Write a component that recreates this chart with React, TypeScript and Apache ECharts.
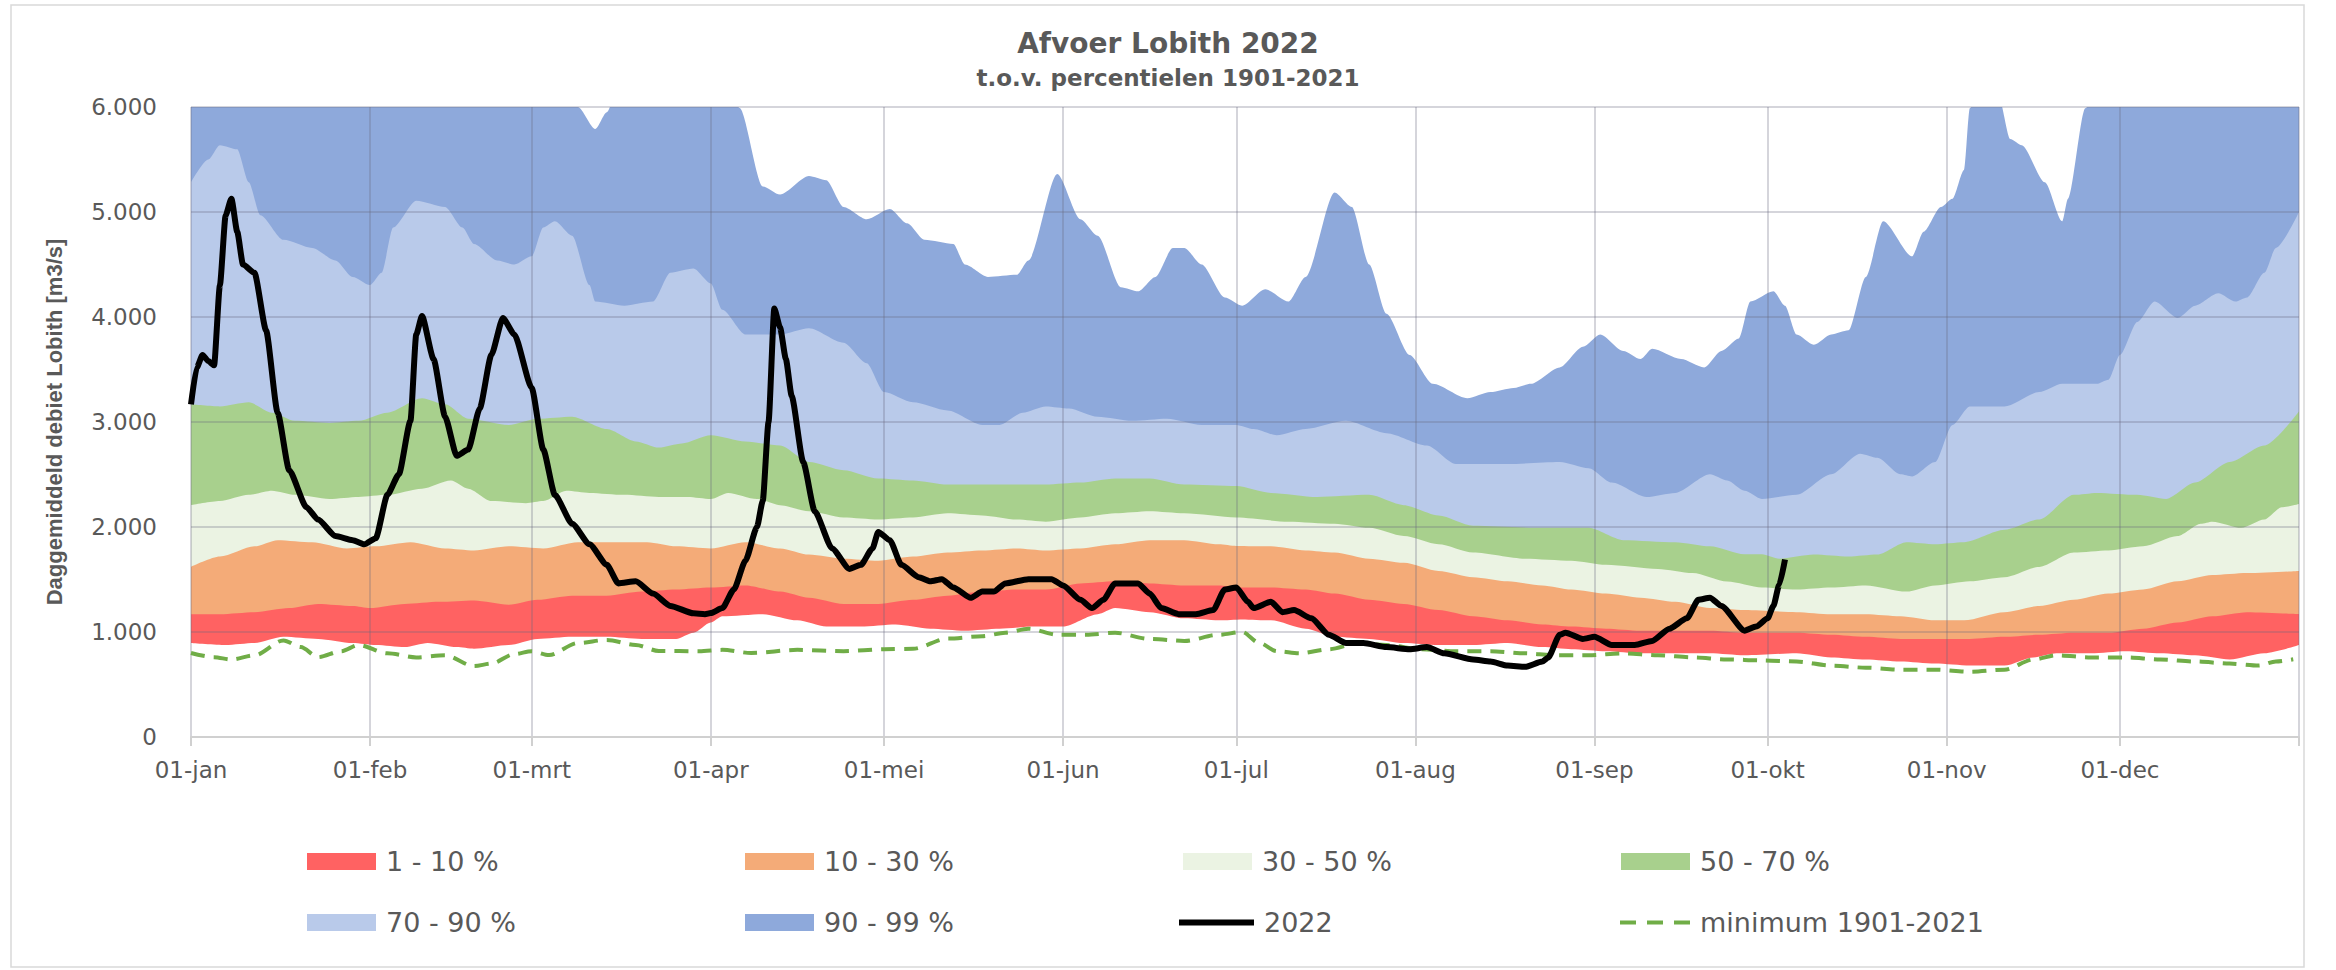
import React, { useEffect, useRef } from 'react';
import * as echarts from 'echarts';

// ---- axis categories ----
const monthStarts = [0, 31, 59, 90, 120, 151, 181, 212, 243, 273, 304, 334];
const monthLabels = ['01-jan', '01-feb', '01-mrt', '01-apr', '01-mei', '01-jun', '01-jul', '01-aug', '01-sep', '01-okt', '01-nov', '01-dec'];
const yearEnd = 365;
const yTickLabels = ['0', '1.000', '2.000', '3.000', '4.000', '5.000', '6.000'];

// ---- percentile curves (day of year, m3/s) ----
const p99Days = [0, 20, 40, 55, 64, 67, 70, 72, 74, 80, 88, 93, 95, 99, 102, 107, 110, 113, 117, 121, 124, 127, 132, 134, 138, 143, 145, 150, 154, 157, 161, 164, 167, 170, 172, 175, 179, 182, 186, 190, 193, 198, 201, 204, 207, 211, 215, 221, 225, 229, 232, 237, 241, 244, 248, 251, 253, 258, 262, 265, 268, 270, 274, 276, 278, 281, 284, 287, 290, 293, 298, 300, 303, 305, 307, 308, 310, 313, 315, 317, 321, 324, 325, 328, 332, 345, 365];
const p99Vals = [6500, 6700, 6800, 6600, 6200, 6000, 5790, 5950, 6200, 6600, 6500, 6200, 5990, 5244, 5166, 5342, 5303, 5048, 4931, 5029, 4892, 4735, 4696, 4500, 4382, 4402, 4539, 5362, 4931, 4774, 4284, 4245, 4382, 4657, 4657, 4500, 4186, 4108, 4265, 4147, 4382, 5185, 5048, 4500, 4030, 3638, 3364, 3226, 3285, 3324, 3364, 3520, 3716, 3834, 3677, 3599, 3697, 3599, 3520, 3677, 3795, 4147, 4245, 4108, 3834, 3736, 3834, 3873, 4382, 4911, 4578, 4813, 5048, 5127, 5401, 5989, 6200, 6100, 5695, 5636, 5283, 4911, 5127, 5989, 6400, 6700, 6700];

const p90Days = [0, 3, 5, 8, 10, 12, 16, 21, 25, 28, 31, 33, 35, 39, 44, 47, 49, 53, 56, 59, 61, 63, 66, 69, 70, 75, 80, 83, 87, 90, 92, 96, 102, 107, 113, 117, 120, 125, 131, 137, 140, 144, 148, 152, 157, 163, 169, 175, 181, 184, 188, 193, 200, 207, 214, 219, 228, 237, 242, 246, 252, 257, 263, 266, 269, 272, 278, 284, 289, 292, 296, 298, 302, 305, 308, 314, 320, 324, 330, 332, 334, 337, 340, 344, 347, 351, 354, 356, 359, 361, 365];
const p90Vals = [5283, 5500, 5636, 5597, 5283, 4970, 4735, 4657, 4539, 4382, 4304, 4421, 4852, 5107, 5048, 4852, 4696, 4539, 4500, 4578, 4852, 4911, 4774, 4304, 4147, 4108, 4147, 4421, 4461, 4320, 4069, 3834, 3834, 3893, 3755, 3560, 3285, 3187, 3109, 2972, 2972, 3089, 3148, 3129, 3050, 3011, 3031, 2972, 2972, 2933, 2874, 2933, 3011, 2894, 2776, 2600, 2600, 2619, 2560, 2423, 2286, 2325, 2502, 2443, 2345, 2267, 2306, 2502, 2698, 2659, 2502, 2482, 2619, 2972, 3148, 3148, 3285, 3364, 3364, 3403, 3638, 3952, 4147, 3991, 4108, 4226, 4147, 4186, 4421, 4657, 5000];

const p70Days = [0, 5, 10, 14, 18, 24, 29, 34, 40, 44, 48, 55, 60, 66, 72, 77, 81, 85, 90, 96, 102, 107, 113, 119, 125, 131, 143, 148, 154, 160, 166, 172, 181, 187, 195, 204, 210, 216, 222, 234, 242, 248, 257, 263, 269, 272, 275, 281, 287, 292, 297, 302, 307, 314, 320, 326, 330, 337, 342, 347, 353, 359, 365];
const p70Vals = [3168, 3148, 3187, 3089, 3011, 2991, 3011, 3089, 3226, 3168, 3031, 2972, 3031, 3050, 2933, 2815, 2756, 2796, 2874, 2815, 2776, 2619, 2541, 2462, 2443, 2404, 2404, 2404, 2423, 2462, 2462, 2404, 2390, 2325, 2286, 2306, 2208, 2110, 2012, 1992, 1992, 1875, 1855, 1816, 1740, 1740, 1698, 1737, 1718, 1737, 1855, 1836, 1855, 1973, 2071, 2306, 2325, 2306, 2267, 2423, 2619, 2776, 3100];

const p50Days = [0, 5, 10, 14, 18, 24, 29, 34, 40, 45, 48, 52, 58, 61, 65, 69, 75, 81, 86, 90, 93, 98, 102, 107, 113, 119, 125, 131, 137, 143, 148, 154, 160, 166, 172, 181, 190, 198, 204, 210, 216, 222, 231, 239, 245, 254, 260, 266, 272, 278, 284, 290, 297, 302, 308, 314, 320, 326, 332, 338, 344, 348, 350, 355, 359, 362, 365];
const p50Vals = [2208, 2247, 2306, 2345, 2306, 2267, 2286, 2306, 2365, 2443, 2365, 2247, 2227, 2247, 2345, 2325, 2306, 2286, 2286, 2267, 2325, 2267, 2208, 2149, 2090, 2071, 2090, 2130, 2110, 2071, 2051, 2090, 2130, 2149, 2130, 2090, 2051, 2031, 1992, 1914, 1836, 1757, 1698, 1679, 1640, 1601, 1561, 1480, 1424, 1405, 1424, 1444, 1385, 1444, 1483, 1522, 1620, 1757, 1777, 1816, 1914, 2031, 2051, 1992, 2071, 2188, 2220];

const p30Days = [0, 5, 11, 15, 21, 27, 32, 38, 44, 49, 55, 61, 67, 73, 79, 84, 90, 96, 102, 107, 113, 119, 125, 131, 137, 143, 148, 154, 160, 166, 172, 178, 181, 187, 193, 198, 204, 210, 216, 222, 228, 234, 239, 245, 251, 257, 263, 269, 278, 284, 290, 296, 302, 307, 314, 320, 326, 332, 338, 344, 350, 356, 365];
const p30Vals = [1620, 1718, 1816, 1875, 1855, 1796, 1816, 1855, 1796, 1777, 1816, 1796, 1855, 1855, 1855, 1816, 1796, 1855, 1796, 1737, 1698, 1679, 1718, 1757, 1777, 1796, 1777, 1796, 1836, 1875, 1875, 1836, 1820, 1816, 1777, 1757, 1698, 1659, 1581, 1522, 1483, 1444, 1405, 1366, 1326, 1287, 1228, 1209, 1189, 1169, 1169, 1150, 1111, 1111, 1189, 1248, 1307, 1366, 1405, 1483, 1542, 1561, 1581];

const p10Days = [0, 5, 11, 17, 22, 28, 31, 37, 43, 49, 55, 60, 66, 72, 78, 84, 90, 96, 102, 107, 113, 119, 125, 131, 137, 143, 148, 154, 160, 166, 172, 178, 181, 187, 193, 198, 204, 210, 216, 222, 228, 234, 239, 245, 251, 263, 269, 278, 284, 290, 296, 308, 314, 320, 326, 332, 338, 344, 350, 356, 365];
const p10Vals = [1170, 1170, 1189, 1228, 1267, 1248, 1228, 1267, 1287, 1300, 1260, 1307, 1346, 1346, 1385, 1405, 1424, 1444, 1385, 1326, 1267, 1267, 1307, 1346, 1385, 1405, 1405, 1463, 1483, 1463, 1444, 1444, 1424, 1424, 1405, 1366, 1307, 1267, 1209, 1150, 1111, 1072, 1052, 1032, 1013, 1013, 993, 993, 974, 954, 934, 934, 954, 974, 993, 993, 1032, 1091, 1150, 1189, 1170];

const p1Days = [0, 6, 11, 16, 22, 28, 32, 37, 41, 46, 49, 55, 60, 66, 72, 78, 84, 87, 90, 92, 99, 105, 110, 116, 122, 128, 134, 140, 146, 151, 157, 160, 166, 172, 178, 182, 187, 193, 198, 204, 210, 216, 222, 228, 234, 239, 245, 251, 263, 269, 278, 284, 290, 296, 302, 308, 314, 319, 323, 329, 335, 341, 347, 353, 359, 365];
const p1Vals = [895, 876, 895, 954, 934, 895, 876, 856, 895, 856, 840, 876, 934, 954, 954, 934, 934, 993, 1091, 1150, 1170, 1111, 1052, 1052, 1072, 1032, 1013, 1032, 1052, 1052, 1170, 1228, 1189, 1130, 1111, 1120, 1111, 1032, 954, 934, 895, 876, 876, 895, 856, 836, 817, 797, 797, 778, 797, 758, 738, 719, 699, 680, 680, 758, 797, 797, 817, 797, 778, 738, 797, 876];

// ---- minimum 1901-2021 ----
const minDays = [0, 4, 7, 11, 16, 19, 22, 26, 29, 34, 39, 44, 49, 52, 56, 59, 62, 67, 72, 77, 81, 88, 92, 97, 105, 113, 120, 125, 131, 137, 141, 145, 150, 155, 160, 166, 172, 178, 182, 185, 188, 192, 197, 202, 207, 213, 219, 225, 231, 236, 242, 248, 254, 260, 266, 272, 278, 284, 290, 296, 302, 308, 314, 319, 323, 329, 335, 341, 347, 353, 358, 361, 364];
const minVals = [800, 760, 738, 778, 920, 856, 760, 817, 876, 797, 758, 778, 675, 699, 790, 817, 780, 895, 925, 876, 820, 817, 830, 800, 830, 817, 836, 840, 937, 960, 993, 1032, 974, 974, 993, 934, 915, 974, 1000, 895, 817, 797, 836, 890, 876, 836, 817, 817, 797, 778, 778, 797, 778, 758, 738, 730, 719, 680, 660, 641, 641, 621, 641, 738, 778, 758, 758, 738, 719, 699, 680, 719, 740];

// ---- 2022 ----
const y2022Days = [0, 1, 2, 3, 4, 5, 6, 7, 8, 9, 11, 13, 15, 17, 20, 22, 25, 28, 30, 32, 34, 36, 38, 39, 40, 42, 44, 46, 48, 50, 52, 54, 56, 59, 61, 63, 66, 69, 72, 74, 77, 80, 83, 87, 89, 90, 92, 94, 96, 98, 99, 100, 101, 102, 103, 104, 106, 108, 111, 114, 116, 118, 119, 121, 123, 126, 128, 130, 132, 135, 137, 139, 141, 145, 149, 151, 154, 156, 158, 160, 164, 166, 168, 171, 174, 177, 179, 181, 183, 184, 187, 189, 191, 194, 197, 200, 203, 207, 211, 214, 217, 222, 225, 228, 231, 234, 235, 237, 238, 241, 243, 246, 250, 253, 256, 259, 261, 263, 265, 269, 271, 273, 274, 275, 276];
const y2022Vals = [3168, 3520, 3638, 3580, 3540, 4300, 4970, 5127, 4813, 4500, 4421, 3873, 3089, 2541, 2188, 2071, 1914, 1875, 1836, 1894, 2306, 2502, 3011, 3834, 4010, 3599, 3050, 2678, 2737, 3129, 3638, 3990, 3834, 3324, 2737, 2306, 2031, 1836, 1640, 1463, 1483, 1366, 1248, 1178, 1170, 1180, 1228, 1405, 1679, 2000, 2250, 3000, 4080, 3900, 3600, 3250, 2619, 2149, 1796, 1601, 1640, 1796, 1953, 1875, 1640, 1522, 1483, 1503, 1424, 1326, 1385, 1385, 1463, 1503, 1503, 1444, 1307, 1228, 1307, 1463, 1463, 1366, 1228, 1170, 1170, 1209, 1405, 1424, 1287, 1228, 1287, 1189, 1209, 1130, 974, 895, 895, 856, 836, 856, 797, 738, 719, 680, 668, 719, 758, 974, 993, 934, 954, 876, 876, 915, 1032, 1130, 1307, 1326, 1248, 1013, 1052, 1130, 1250, 1450, 1690];

const xCategories = Array.from({ length: yearEnd + 1 }, (_, i) => {
  const m = monthStarts.indexOf(i);
  return m >= 0 ? monthLabels[m] : 'd' + i;
});

const pairs = (d: number[], v: number[]) => d.map((x, i) => [x, v[i]]);

const FONT = "'DejaVu Sans', 'Noto Sans', sans-serif";
const TXT = '#595959';
const GRIDLINE = 'rgba(105,105,125,0.28)';
const DASH_ICON = 'path://M0,0H16V4H0Z M27,0H43V4H27Z M54,0H70V4H54Z';

function band(name: string, days: number[], vals: number[], color: string, z: number) {
  return {
    name,
    type: 'line',
    data: pairs(days, vals),
    symbol: 'none',
    smooth: 0.25,
    smoothMonotone: 'x',
    clip: true,
    silent: true,
    color,
    itemStyle: { color },
    lineStyle: { width: 0, color },
    areaStyle: { color, opacity: 1 },
    z,
  };
}

const legendItems = [
  { name: '1 - 10 %', left: 307, top: 848, icon: 'rect', w: 69, h: 17 },
  { name: '10 - 30 %', left: 745, top: 848, icon: 'rect', w: 69, h: 17 },
  { name: '30 - 50 %', left: 1183, top: 848, icon: 'rect', w: 69, h: 17 },
  { name: '50 - 70 %', left: 1621, top: 848, icon: 'rect', w: 69, h: 17 },
  { name: '70 - 90 %', left: 307, top: 909, icon: 'rect', w: 69, h: 17 },
  { name: '90 - 99 %', left: 745, top: 909, icon: 'rect', w: 69, h: 17 },
  { name: '2022', left: 1179, top: 909, icon: 'rect', w: 75, h: 6 },
  { name: 'minimum 1901-2021', left: 1620, top: 909, icon: DASH_ICON, w: 70, h: 4 },
];

export default function App() {
  const ref = useRef<HTMLDivElement>(null);
  useEffect(() => {
    document.body.style.margin = '0';
    document.body.style.overflow = 'hidden';
    if (!ref.current) return;
    const chart = echarts.init(ref.current, undefined, { renderer: 'svg' });
    const isGridIdx = (i: number) => monthStarts.includes(i) || i === yearEnd;
    const option: any = {
      animation: false,
      backgroundColor: '#ffffff',
      textStyle: { fontFamily: FONT },
      title: [
        {
          text: 'Afvoer Lobith 2022',
          left: 'center',
          top: 29,
          padding: 0,
          textStyle: { fontSize: 28, fontWeight: 'bold', color: TXT, fontFamily: FONT },
        },
        {
          text: 't.o.v. percentielen 1901-2021',
          left: 'center',
          top: 66,
          padding: 0,
          textStyle: { fontSize: 23, fontWeight: 'bold', color: TXT, fontFamily: FONT },
        },
      ],
      graphic: [
        {
          type: 'rect',
          silent: true,
          z: -10,
          shape: { x: 11, y: 5, width: 2293, height: 962 },
          style: { fill: 'none', stroke: '#d9d9d9', lineWidth: 1.5 },
        },
      ],
      grid: { left: 191, right: 37, top: 107, bottom: 233, containLabel: false },
      xAxis: {
        type: 'category',
        data: xCategories,
        boundaryGap: false,
        z: 20,
        axisLine: { show: true, lineStyle: { color: '#d0d0d0', width: 2 } },
        axisTick: { show: true, interval: (i: number) => isGridIdx(i), length: 9, lineStyle: { color: '#d0d0d0', width: 2 } },
        axisLabel: {
          interval: (i: number) => monthStarts.includes(i),
          margin: 21,
          fontSize: 23,
          color: TXT,
          fontFamily: FONT,
        },
        splitLine: { show: true, interval: (i: number) => isGridIdx(i), lineStyle: { color: GRIDLINE, width: 2 } },
      },
      yAxis: {
        type: 'value',
        min: 0,
        max: 6000,
        interval: 1000,
        z: 20,
        name: 'Daggemiddeld debiet Lobith [m3/s]',
        nameLocation: 'middle',
        nameGap: 126,
        nameTextStyle: { fontSize: 22, fontWeight: 'bold', color: TXT, fontFamily: "'Liberation Sans', Arial, sans-serif" },
        axisLine: { show: false },
        axisTick: { show: false },
        axisLabel: {
          margin: 34,
          fontSize: 23,
          color: TXT,
          fontFamily: FONT,
          formatter: (v: number) => yTickLabels[Math.round(v / 1000)] ?? String(v),
        },
        splitLine: { show: true, lineStyle: { color: GRIDLINE, width: 2 } },
      },
      legend: legendItems.map((it) => ({
        data: [{ name: it.name, icon: it.icon }],
        left: it.left,
        top: it.top,
        orient: 'horizontal',
        padding: 0,
        itemGap: 0,
        itemWidth: it.w,
        itemHeight: it.h,
        selectedMode: false,
        itemStyle: { borderWidth: 0 },
        textStyle: { fontSize: 27, color: TXT, fontFamily: FONT, padding: [0, 0, 0, 5] },
      })),
      series: [
        band('90 - 99 %', p99Days, p99Vals, '#8EA9DB', 2),
        band('70 - 90 %', p90Days, p90Vals, '#B9CAEA', 3),
        band('50 - 70 %', p70Days, p70Vals, '#A8D08D', 4),
        band('30 - 50 %', p50Days, p50Vals, '#EBF3E3', 5),
        band('10 - 30 %', p30Days, p30Vals, '#F4AB78', 6),
        band('1 - 10 %', p10Days, p10Vals, '#FF6262', 7),
        band('p1', p1Days, p1Vals, '#ffffff', 8),
        {
          name: 'minimum 1901-2021',
          type: 'line',
          data: pairs(minDays, minVals),
          symbol: 'none',
          smooth: 0.3,
          smoothMonotone: 'x',
          silent: true,
          color: '#70AD47',
          itemStyle: { color: '#70AD47' },
          lineStyle: { color: '#70AD47', width: 4, type: [14, 9] },
          z: 29,
        },
        {
          name: '2022',
          type: 'line',
          data: pairs(y2022Days, y2022Vals),
          symbol: 'none',
          smooth: 0.2,
          smoothMonotone: 'x',
          silent: true,
          color: '#000000',
          itemStyle: { color: '#000000' },
          lineStyle: { color: '#000000', width: 6 },
          z: 30,
        },
      ],
    };
    chart.setOption(option);
    return () => chart.dispose();
  }, []);
  return <div ref={ref} style={{ width: 2336, height: 970 }} />;
}
